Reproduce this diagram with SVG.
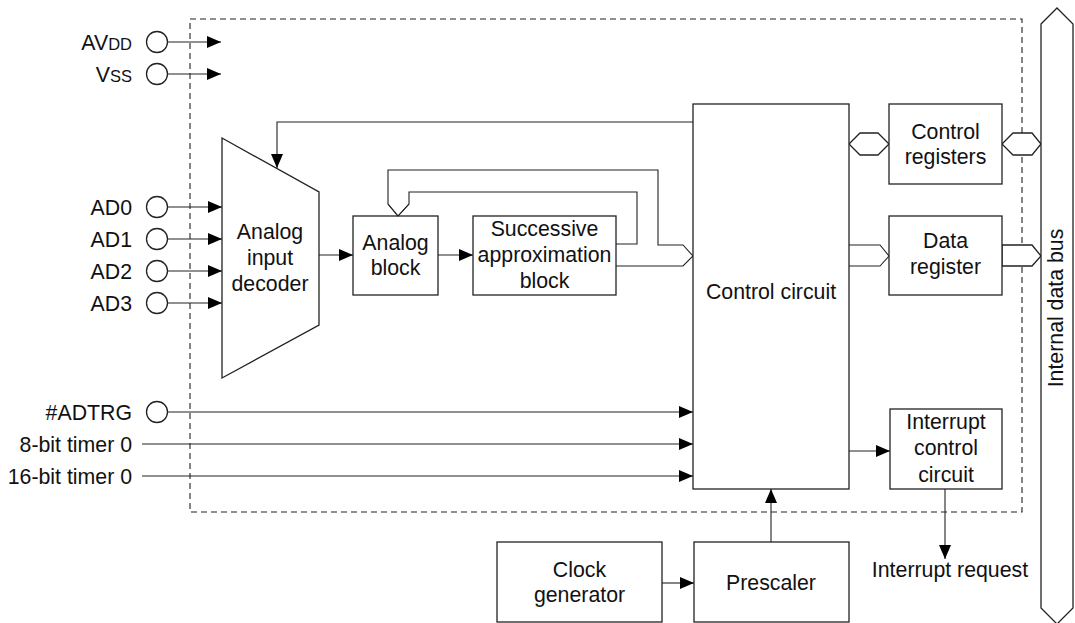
<svg xmlns="http://www.w3.org/2000/svg" width="1075" height="623" viewBox="0 0 1075 623">
<defs>
<marker id="ah" markerWidth="14" markerHeight="12" refX="14" refY="6" orient="auto" markerUnits="userSpaceOnUse">
<path d="M0,0 L14,6 L0,12 Z" fill="#000"/>
</marker>
</defs>
<style>
text{font-family:"Liberation Sans",Arial,sans-serif;font-size:21.3px;fill:#111}
.box{fill:#fff;stroke:#222;stroke-width:1.3}
.ln{fill:none;stroke:#222;stroke-width:1.1}
.pin{fill:#fff;stroke:#222;stroke-width:1.3}
.c{text-anchor:middle}
.r{text-anchor:end}
</style>
<rect width="1075" height="623" fill="#fff"/>
<rect x="190" y="19" width="832" height="493" fill="none" stroke="#222" stroke-width="1.1" stroke-dasharray="6,4"/>

<g id="connectors">
<line class="ln" x1="168" y1="42" x2="221" y2="42" marker-end="url(#ah)"/>
<line class="ln" x1="168" y1="74" x2="221" y2="74" marker-end="url(#ah)"/>
<line class="ln" x1="168" y1="207" x2="222" y2="207" marker-end="url(#ah)"/>
<line class="ln" x1="168" y1="239" x2="222" y2="239" marker-end="url(#ah)"/>
<line class="ln" x1="168" y1="271" x2="222" y2="271" marker-end="url(#ah)"/>
<line class="ln" x1="168" y1="303" x2="222" y2="303" marker-end="url(#ah)"/>
<line class="ln" x1="168" y1="412" x2="693" y2="412" marker-end="url(#ah)"/>
<line class="ln" x1="142" y1="444" x2="693" y2="444" marker-end="url(#ah)"/>
<line class="ln" x1="142" y1="476" x2="693" y2="476" marker-end="url(#ah)"/>
<polyline class="ln" points="693,122 277,122 277,168" marker-end="url(#ah)"/>
<line class="ln" x1="319" y1="255" x2="353" y2="255" marker-end="url(#ah)"/>
<line class="ln" x1="438" y1="255" x2="473" y2="255" marker-end="url(#ah)"/>
<polyline class="ln" points="616,244 637,244 637,192 409,192 409,204 398,216 388,204 388,170 658,170 658,245 683,245 693,256 683,266 616,266"/>
<polygon class="box" points="849,144 860,133 878,133 889,144 878,155 860,155"/>
<polygon class="box" points="1002,144 1013,133 1032,133 1041,144 1032,155 1013,155"/>
<polyline class="ln" points="849,245 880,245 889,256 880,266 849,266"/>
<polygon class="box" points="1002,245 1032,245 1041,256 1032,266 1002,266"/>
<line class="ln" x1="849" y1="451" x2="890" y2="451" marker-end="url(#ah)"/>
<line class="ln" x1="945" y1="489" x2="945" y2="559" marker-end="url(#ah)"/>
<line class="ln" x1="662" y1="583" x2="694" y2="583" marker-end="url(#ah)"/>
<line class="ln" x1="771" y1="542" x2="771" y2="489" marker-end="url(#ah)"/>
</g>

<g id="pins">
<circle class="pin" cx="157" cy="42" r="10.5"/>
<circle class="pin" cx="157" cy="74" r="10.5"/>
<circle class="pin" cx="157" cy="207" r="10.5"/>
<circle class="pin" cx="157" cy="239" r="10.5"/>
<circle class="pin" cx="157" cy="271" r="10.5"/>
<circle class="pin" cx="157" cy="303" r="10.5"/>
<circle class="pin" cx="157" cy="412" r="10.5"/>
<text class="r" x="132" y="50">AV<tspan font-size="16.5">DD</tspan></text>
<text class="r" x="132" y="82">V<tspan font-size="16.5">SS</tspan></text>
<text class="r" x="132" y="215">AD0</text>
<text class="r" x="132" y="247">AD1</text>
<text class="r" x="132" y="279">AD2</text>
<text class="r" x="132" y="311">AD3</text>
<text class="r" x="132" y="420">#ADTRG</text>
<text class="r" x="132" y="452">8-bit timer 0</text>
<text class="r" x="132" y="484">16-bit timer 0</text>
</g>

<g id="decoder">
<polygon class="box" points="222,138 319,192 319,325 222,378"/>
<text class="c" x="270" y="239">Analog</text>
<text class="c" x="270" y="265">input</text>
<text class="c" x="270" y="291">decoder</text>
</g>

<g id="analog-block">
<rect class="box" x="353" y="216" width="85" height="79"/>
<text class="c" x="395.5" y="250">Analog</text>
<text class="c" x="395.5" y="275">block</text>
</g>
<polyline class="ln" points="409,204 398,216 388,204"/>

<g id="sar">
<rect class="box" x="473" y="216" width="143" height="79"/>
<text class="c" x="544.5" y="236">Successive</text>
<text class="c" x="544.5" y="262">approximation</text>
<text class="c" x="544.5" y="288">block</text>
</g>

<g id="control-circuit">
<rect class="box" x="693" y="104" width="156" height="385"/>
<text class="c" x="771" y="299">Control circuit</text>
</g>

<g id="control-registers">
<rect class="box" x="889" y="104" width="113" height="80"/>
<text class="c" x="945.5" y="139">Control</text>
<text class="c" x="945.5" y="164">registers</text>
</g>

<g id="data-register">
<rect class="box" x="889" y="216" width="113" height="79"/>
<text class="c" x="945.5" y="248">Data</text>
<text class="c" x="945.5" y="274">register</text>
</g>

<g id="interrupt-control">
<rect class="box" x="890" y="409" width="112" height="80"/>
<text class="c" x="946" y="429">Interrupt</text>
<text class="c" x="946" y="455">control</text>
<text class="c" x="946" y="482">circuit</text>
</g>
<text class="c" x="950" y="577">Interrupt request</text>

<g id="clock-generator">
<rect class="box" x="497" y="542" width="165" height="80"/>
<text class="c" x="579.5" y="577">Clock</text>
<text class="c" x="579.5" y="602">generator</text>
</g>

<g id="prescaler">
<rect class="box" x="694" y="542" width="155" height="80"/>
<text class="c" x="771" y="590">Prescaler</text>
</g>

<g id="internal-bus">
<polygon class="box" points="1041,24 1057,8 1073,24 1073,608 1057,624 1041,608"/>
<text class="c" x="1063" y="308" font-size="19.5" transform="rotate(-90 1063 308)">Internal data bus</text>
</g>
</svg>
